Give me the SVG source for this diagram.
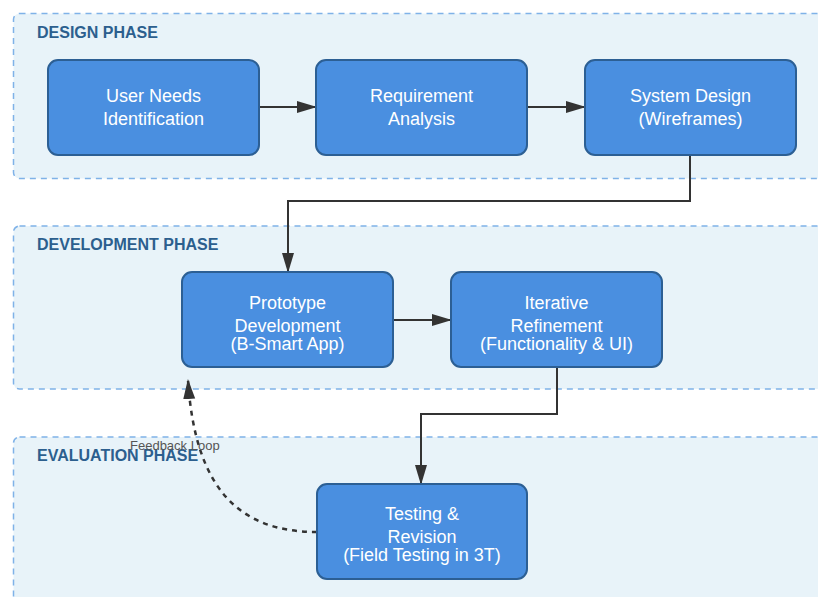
<svg xmlns="http://www.w3.org/2000/svg" width="818" height="597" viewBox="0 0 818 597">
<style>
.phase{fill:#e8f3f9;stroke:#7fb2e8;stroke-width:1.5;stroke-dasharray:6,5}
.plabel{font-family:"Liberation Sans",Arial,sans-serif;font-weight:bold;font-size:16px;fill:#2c5f8e}
.node rect{fill:#4a8fe0;stroke:#2c5f94;stroke-width:2}
.node text{font-family:"Liberation Sans",Arial,sans-serif;font-size:18px;fill:#ffffff;text-anchor:middle}
.conn{fill:none;stroke:#333333;stroke-width:2}
.fb{fill:none;stroke:#333333;stroke-width:2.5;stroke-dasharray:5,5}
.fblabel{font-family:"Liberation Sans",Arial,sans-serif;font-size:13px;fill:#555555}
</style>
<defs>
<marker id="arr" markerUnits="userSpaceOnUse" markerWidth="20" markerHeight="14" viewBox="0 0 20 14" refX="19" refY="7" orient="auto">
<path d="M0,1 L20,7 L0,13 z" fill="#333333"/>
</marker>
</defs>
<rect width="818" height="597" fill="#ffffff"/>
<g id="phases">
<rect class="phase" x="13.5" y="13.5" width="820" height="165" rx="6"/>
<text class="plabel" x="37" y="37.5">DESIGN PHASE</text>
<rect class="phase" x="13.5" y="226" width="820" height="163" rx="6"/>
<text class="plabel" x="37" y="249.5">DEVELOPMENT PHASE</text>
<rect class="phase" x="13.5" y="437" width="820" height="180" rx="6"/>
<text class="plabel" x="37" y="460.5">EVALUATION PHASE</text>
</g>
<g id="connectors">
<path class="conn" d="M259,107 H316" marker-end="url(#arr)"/>
<path class="conn" d="M527,107 H585" marker-end="url(#arr)"/>
<path class="conn" d="M690,155 V201 H288 V272" marker-end="url(#arr)"/>
<path class="conn" d="M393,320 H451" marker-end="url(#arr)"/>
<path class="conn" d="M557,367 V414 H421 V484" marker-end="url(#arr)"/>
<path class="fb" d="M317,532 C240,532 195,490 188,380" marker-end="url(#arr)"/>
<text class="fblabel" x="130" y="450">Feedback Loop</text>
</g>
<g id="user-needs" class="node">
<rect x="48" y="60" width="211" height="95" rx="10"/>
<text x="153.5" y="101.5">User Needs</text>
<text x="153.5" y="124.5">Identification</text>
</g>
<g id="requirement" class="node">
<rect x="316" y="60" width="211" height="95" rx="10"/>
<text x="421.5" y="101.5">Requirement</text>
<text x="421.5" y="124.5">Analysis</text>
</g>
<g id="system-design" class="node">
<rect x="585" y="60" width="211" height="95" rx="10"/>
<text x="690.5" y="101.5">System Design</text>
<text x="690.5" y="124.5">(Wireframes)</text>
</g>
<g id="prototype" class="node">
<rect x="182" y="272" width="211" height="95" rx="10"/>
<text x="287.5" y="308.5">Prototype</text>
<text x="287.5" y="331.5">Development</text>
<text x="287.5" y="349.5">(B-Smart App)</text>
</g>
<g id="iterative" class="node">
<rect x="451" y="272" width="211" height="95" rx="10"/>
<text x="556.5" y="308.5">Iterative</text>
<text x="556.5" y="331.5">Refinement</text>
<text x="556.5" y="349.5">(Functionality &amp; UI)</text>
</g>
<g id="testing" class="node">
<rect x="317" y="484" width="210" height="95" rx="10"/>
<text x="422" y="519.5">Testing &amp;</text>
<text x="422" y="543">Revision</text>
<text x="422" y="560.5">(Field Testing in 3T)</text>
</g>
</svg>
